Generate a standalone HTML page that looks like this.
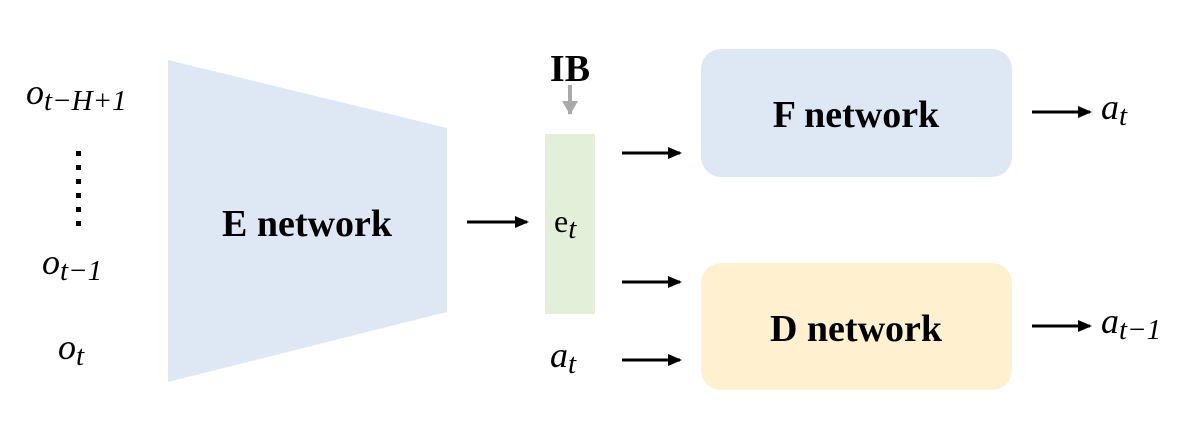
<!DOCTYPE html>
<html><head><meta charset="utf-8"><style>
html,body{margin:0;padding:0;background:#fff;width:1204px;height:428px;overflow:hidden}
svg text{font-family:"Liberation Serif",serif}
.m{font-style:italic;font-size:36px}
.s{font-style:italic;font-size:29px}
.b{font-weight:bold;font-size:38px}
</style></head><body>
<svg width="1204" height="428" viewBox="0 0 1204 428">
<defs><marker id="ah" markerWidth="14" markerHeight="12" refX="12" refY="6" orient="auto" markerUnits="userSpaceOnUse"><path d="M0,0 L14,6 L0,12 Z" fill="#000"/></marker>
<marker id="ag" markerWidth="16" markerHeight="14" refX="8" refY="13" orient="0" markerUnits="userSpaceOnUse"><path d="M0,0 L16,0 L8,14 Z" fill="#aaa"/></marker></defs>

<g>
<text x="26" y="104" class="m">o<tspan class="s" dy="6">t−H+1</tspan></text>
<g fill="#000">
<rect x="76" y="151" width="5" height="5"/><rect x="76" y="165" width="5" height="5"/><rect x="76" y="179" width="5" height="5"/><rect x="76" y="193" width="5" height="5"/><rect x="76" y="207" width="5" height="5"/><rect x="76" y="221" width="5" height="5"/></g>
<text x="42" y="274" class="m">o<tspan class="s" dy="6">t−1</tspan></text>
<text x="58" y="359" class="m">o<tspan class="s" dy="6">t</tspan></text>
</g>

<polygon points="168,60 447,128 447,312 168,382" fill="#dee8f5"/>
<text x="307" y="236" text-anchor="middle" class="b">E network</text>

<line x1="467" y1="222" x2="527" y2="222" stroke="#000" stroke-width="3" marker-end="url(#ah)"/>

<text x="570" y="81" text-anchor="middle" class="b" font-size="34">IB</text>
<line x1="570" y1="85" x2="570" y2="114" stroke="#aaa" stroke-width="4" marker-end="url(#ag)"/>
<rect x="545" y="134" width="50" height="180" fill="#e2efd9"/>
<text x="554" y="232" font-size="32">e<tspan class="s" dy="6">t</tspan></text>
<text x="550" y="367" class="m">a<tspan class="s" dy="6">t</tspan></text>

<line x1="622" y1="153" x2="680" y2="153" stroke="#000" stroke-width="3" marker-end="url(#ah)"/>
<line x1="622" y1="282" x2="680" y2="282" stroke="#000" stroke-width="3" marker-end="url(#ah)"/>
<line x1="622" y1="360" x2="680" y2="360" stroke="#000" stroke-width="3" marker-end="url(#ah)"/>

<rect x="701" y="49" width="311" height="128" rx="20" fill="#dee8f5"/>
<text x="856" y="127" text-anchor="middle" class="b">F network</text>
<rect x="701" y="263" width="311" height="127" rx="20" fill="#fff1cf"/>
<text x="856" y="341" text-anchor="middle" class="b">D network</text>

<line x1="1032" y1="112" x2="1090" y2="112" stroke="#000" stroke-width="3" marker-end="url(#ah)"/>
<line x1="1032" y1="326" x2="1090" y2="326" stroke="#000" stroke-width="3" marker-end="url(#ah)"/>
<text x="1101" y="119" class="m">a<tspan class="s" dy="6">t</tspan></text>
<text x="1101" y="333" class="m">a<tspan class="s" dy="6">t−1</tspan></text>
</svg>
</body></html>
